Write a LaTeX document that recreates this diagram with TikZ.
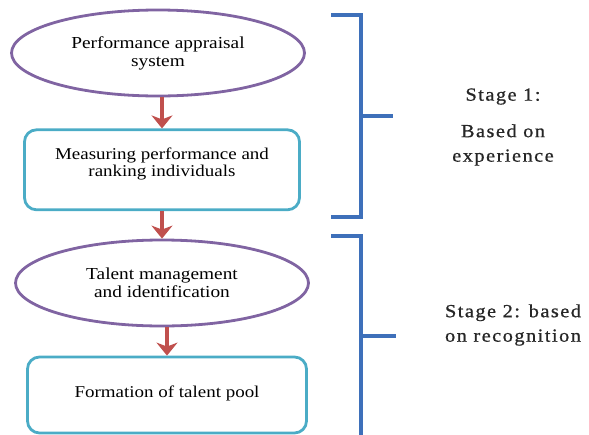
\documentclass[tikz,border=0pt]{standalone}
\usepackage{fontspec}
\setmainfont[FakeStretch=1.15]{Liberation Serif}
\newfontfamily\stagefont[FakeStretch=1.1,LetterSpace=8,FakeBold=0.8]{Liberation Serif}
\usepackage{tikz}
\usetikzlibrary{shapes.geometric, arrows.meta, positioning}

\definecolor{ovalpurple}{RGB}{128,100,162}
\definecolor{boxaqua}{RGB}{75,172,198}
\definecolor{arrowred}{RGB}{192,80,77}
\definecolor{bracketblue}{RGB}{62,112,186}

\begin{document}
\begin{tikzpicture}[
	x=1pt, y=-1pt,
	node distance=31pt,
	oval/.style={ellipse, draw=ovalpurple, line width=2.8pt, minimum width=293pt, minimum height=86pt, inner sep=0pt, align=center, font=\fontsize{16.8}{18}\selectfont},
	stagebox/.style={rectangle, rounded corners=12pt, draw=boxaqua, line width=2.8pt, minimum width=275pt, minimum height=80pt, align=center, font=\fontsize{16.5}{16.5}\selectfont},
	arrow/.style={-{Stealth[length=13pt,width=21pt,inset=4pt]}, line width=3.5pt, draw=arrowred},
	bracket/.style={line width=3.6pt, draw=bracketblue},
	stagetext/.style={align=center, text=black!85, font=\stagefont\fontsize{18.5}{24.5}\selectfont}
	]
	\useasboundingbox (0,0) rectangle (589,434);

	% Nodes
	\node (appraisal) [oval] at (158,53) {Performance appraisal\\system};
	\node (measuring) [stagebox, below=of appraisal, xshift=4pt, text depth=15pt] {Measuring performance and\\ranking individuals};
	\node (talent) [oval] at (162,283) {Talent management\\and identification};
	\node (pool) [stagebox, minimum width=279pt, minimum height=76pt, text depth=6pt] at (167,395) {Formation of talent pool};

	% Arrows
	\draw[arrow] (appraisal.south -| measuring.north) -- (measuring.north);
	\draw[arrow] (measuring.south) -- (talent.north -| measuring.south);
	\draw[arrow] (talent.south -| pool.north) -- (pool.north);

	% Brackets
	\draw[bracket] (331,15) -- (361,15) -- (361,217) -- (331,217);
	\draw[bracket] (361,116) -- (393,116);
	\draw[bracket] (331,236) -- (361,236) -- (361,436);
	\draw[bracket] (361,336) -- (396,336);

	% Stage labels
	\node (stageone) [stagetext] at (503,127) {Stage 1:\\[12pt]Based on\\experience};
	\node (stagetwo) [stagetext] at (513,325) {Stage 2: based\\on recognition};

\end{tikzpicture}
\end{document}
